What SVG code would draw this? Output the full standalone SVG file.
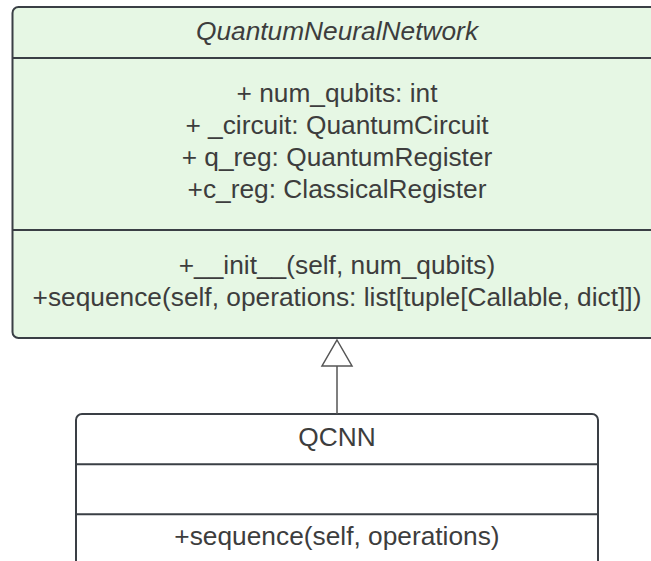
<svg xmlns="http://www.w3.org/2000/svg" width="651" height="561" viewBox="0 0 651 561">
  <style>
    .box { stroke: #3a3f45; stroke-width: 2; }
    .sep { stroke: #3a3f45; stroke-width: 2; fill: none; }
    .txt { font-family: "Liberation Sans", Arial, sans-serif; font-size: 26.3px; fill: #3d3d3d; text-anchor: middle; }
    .edge { stroke: #555555; stroke-width: 1.5; fill: none; }
    .head { stroke: #555555; stroke-width: 1.5; fill: #ffffff; stroke-linejoin: miter; }
  </style>
  <rect width="651" height="561" fill="#ffffff"/>

  <!-- Abstract base class -->
  <g id="QuantumNeuralNetwork">
    <rect class="box" x="12.5" y="7" width="649" height="331" rx="6" fill="#e6f7e4"/>
    <line class="sep" x1="12.5" y1="58" x2="661.5" y2="58"/>
    <line class="sep" x1="12.5" y1="230" x2="661.5" y2="230"/>
    <text class="txt" x="337" y="40" font-style="italic">QuantumNeuralNetwork</text>
    <text class="txt" x="337" y="102">+ num_qubits: int</text>
    <text class="txt" x="337" y="134">+ _circuit: QuantumCircuit</text>
    <text class="txt" x="337" y="166">+ q_reg: QuantumRegister</text>
    <text class="txt" x="337" y="198">+c_reg: ClassicalRegister</text>
    <text class="txt" x="337" y="273.5">+__init__(self, num_qubits)</text>
    <text class="txt" x="337" y="305.5">+sequence(self, operations: list[tuple[Callable, dict]])</text>
  </g>

  <!-- Subclass -->
  <g id="QCNN">
    <rect class="box" x="76" y="414" width="522" height="170" rx="6" fill="#ffffff"/>
    <line class="sep" x1="76" y1="464.3" x2="598" y2="464.3"/>
    <line class="sep" x1="76" y1="514.3" x2="598" y2="514.3"/>
    <text class="txt" x="337" y="446">QCNN</text>
    <text class="txt" x="337" y="545">+sequence(self, operations)</text>
  </g>

  <!-- Generalization arrow -->
  <g id="connectors">
    <line class="edge" x1="337" y1="414" x2="337" y2="366"/>
    <polygon class="head" points="337,340 352,366 322,366"/>
  </g>
</svg>
